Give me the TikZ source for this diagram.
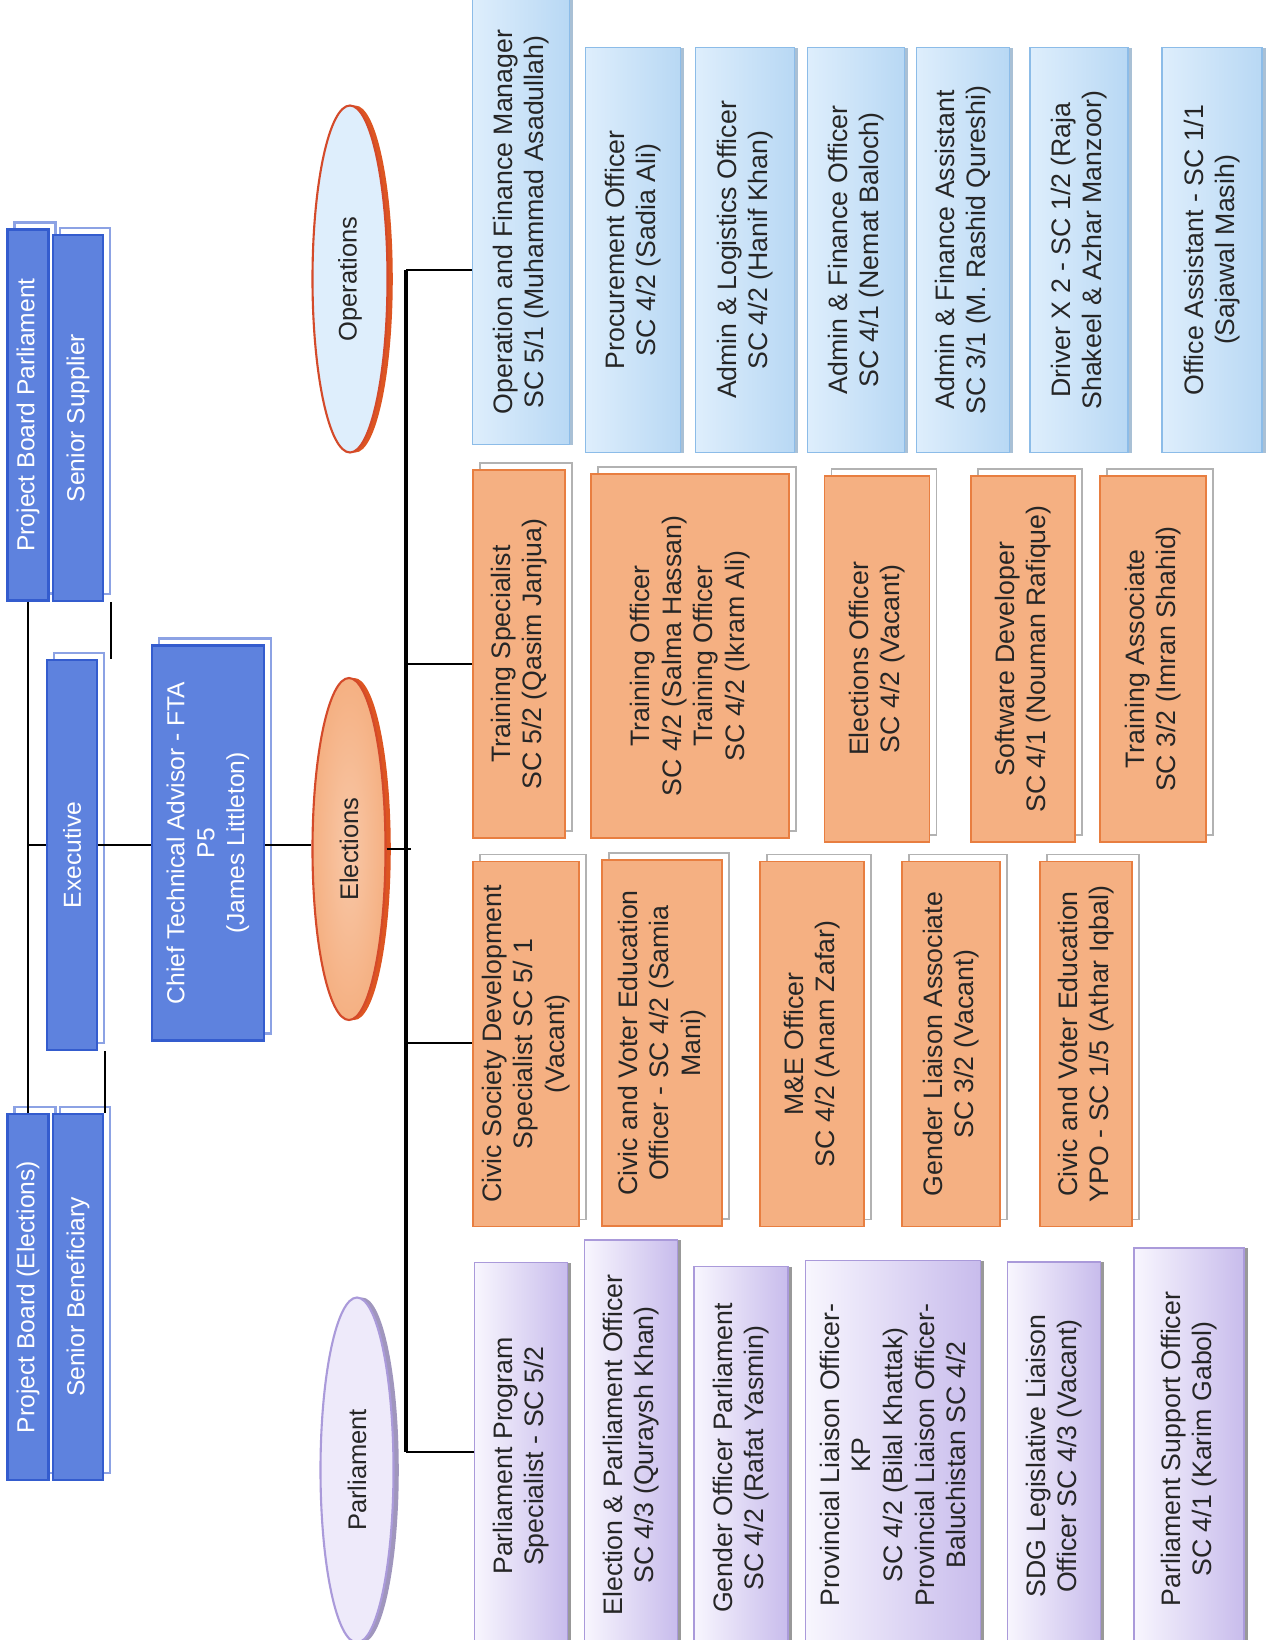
\documentclass[tikz,border=0pt]{standalone}
\usepackage{fontspec}
\setmainfont{Liberation Sans}
\usepackage{tikz}
\tikzset{>=latex}
\usetikzlibrary{shapes.geometric, shadows}

\definecolor{boardblue}{RGB}{94,130,222}
\definecolor{boardedge}{RGB}{52,92,206}
\definecolor{boardshade}{RGB}{140,162,228}
\definecolor{opslight}{RGB}{222,238,252}
\definecolor{opsdark}{RGB}{184,216,244}
\definecolor{opsedge}{RGB}{140,188,232}
\definecolor{elecfill}{RGB}{245,176,130}
\definecolor{elecedge}{RGB}{232,126,64}
\definecolor{parllight}{RGB}{248,246,254}
\definecolor{parldark}{RGB}{200,188,236}
\definecolor{parledge}{RGB}{170,154,218}
\definecolor{rimred}{RGB}{212,74,42}
\definecolor{inktext}{RGB}{38,38,38}

\newcommand{\branch}[2]{
   \draw[branchline] (#1) -- (#1 -| #2.north);
}

\tikzset{
  boxsize/.style 2 args = {minimum width=#1*0.02cm, minimum height=#2*0.02cm},
  card/.style = {rectangle, rotate=90, align=center, inner sep=2pt, text=inktext,
                 font=\fontsize{15.2}{18}\selectfont},
  boardbox/.style = {card, fill=boardblue, draw=boardedge, line width=1.2pt, text=white,
                 font=\fontsize{14}{17}\selectfont,
                 copy shadow={fill=white, draw=boardshade, line width=1.6pt, shadow xshift=4pt, shadow yshift=4pt}},
  opsbox/.style = {card, left color=opslight, right color=opsdark, draw=opsedge, line width=0.8pt,
                 copy shadow={fill=opsedge!80!black!60, draw=none, shadow xshift=2pt, shadow yshift=0pt}},
  elecbox/.style = {card, fill=elecfill, draw=elecedge, line width=0.8pt,
                 copy shadow={fill=white, draw=black!30, line width=0.7pt, shadow xshift=4pt, shadow yshift=4pt}},
  parlbox/.style = {card, left color=parllight, right color=parldark, draw=parledge, line width=0.8pt,
                 copy shadow={fill=black!40, draw=none, shadow xshift=2pt, shadow yshift=0pt}},
  unit/.style = {ellipse, rotate=90, inner sep=0pt, line width=1.2pt, text=inktext,
                 font=\fontsize{14.5}{17.5}\selectfont},
  branchline/.style = {line width=0.7pt},
  trunkline/.style = {line width=1.8pt}
}

\begin{document}
\begin{tikzpicture}[x=0.02cm, y=-0.02cm]
		% Frame
		\path[use as bounding box, fill=white] (0,0) rectangle (1272,1640);

		% Board
		\node[boardbox, boxsize={371}{41}] (pbparl) at (28,415) {Project Board Parliament};
		\node[boardbox, boxsize={366}{50}] (ssup) at (78,418) {Senior Supplier};
		\node[boardbox, boxsize={366}{41}] (pbelec) at (28,1297) {Project Board (Elections)};
		\node[boardbox, boxsize={366}{50}] (sben) at (78,1297) {Senior Beneficiary};
		\node[boardbox, boxsize={390}{50}] (exec) at (72,855) {Executive};
		\node[boardbox, boxsize={395}{112}] (cta) at (208,843) {Chief Technical Advisor - FTA\\P5\\(James Littleton)};
		\coordinate (ctaLevel) at (0,845);

		\draw[branchline] (pbparl.west) -- (pbelec.east);
		\draw[branchline] (ctaLevel -| pbparl.west) -- (ctaLevel -| exec.north);
		\draw[line width=1.4pt] ([xshift=4pt]ssup.south west) -- ([xshift=4pt]ssup.south west |- exec.south east);
		\draw[line width=1.4pt] ([xshift=4pt]exec.south west) -- ([xshift=4pt]exec.south west |- sben.south east);
		\draw[branchline] (ctaLevel -| exec.south) -- (ctaLevel -| cta.north);

		% Units
		\node[unit, fill=opslight, draw=rimred, boxsize={347}{75},
		      copy shadow={fill=rimred!80!orange, draw=none, shadow xshift=3pt, shadow yshift=0pt}] (opsell) at (350,279) {Operations};
		\node[unit, inner color=elecfill!70!white, outer color=elecfill, draw=rimred, boxsize={342}{73},
		      copy shadow={fill=rimred!80!orange, draw=none, shadow xshift=3pt, shadow yshift=0pt}] (elecell) at (349,849) {Elections};
		\node[unit, fill=parllight!80!parldark, draw=parledge, boxsize={345}{73},
		      copy shadow={fill=parldark!80!black, draw=none, shadow xshift=3pt, shadow yshift=0pt}] (parlell) at (357,1470) {Parliament};

		\draw[branchline] (ctaLevel -| cta.south) -- (ctaLevel -| elecell.north);
		\draw[branchline] (elecell.south) -- ++(24,0);

		% Operations
		\node[opsbox, boxsize={445}{97}] (opsmgr) at (521,222) {Operation and Finance Manager\\SC 5/1 (Muhammad Asadullah)};
		\node[opsbox, boxsize={405}{95}] (proc) at (633,250) {Procurement Officer\\SC 4/2 (Sadia Ali)};
		\node[opsbox, boxsize={405}{99}] (adlog) at (745,250) {Admin \& Logistics Officer\\SC 4/2 (Hanif Khan)};
		\node[opsbox, boxsize={405}{97}] (adfin) at (856,250) {Admin \& Finance Officer\\SC 4/1 (Nemat Baloch)};
		\node[opsbox, boxsize={405}{93}] (adass) at (963,250) {Admin \& Finance Assistant\\SC 3/1 (M. Rashid Qureshi)};
		\node[opsbox, boxsize={405}{98}] (driver) at (1079,250) {Driver X 2 - SC 1/2 (Raja\\Shakeel \& Azhar Manzoor)};
		\node[opsbox, boxsize={405}{100}] (offass) at (1212,250) {Office Assistant - SC 1/1\\(Sajawal Masih)};

		% Training
		\node[elecbox, boxsize={368}{92}] (trspec) at (519,654) {Training Specialist\\SC 5/2 (Qasim Janjua)};
		\node[elecbox, boxsize={364}{198}] (trofc) at (690,656) {Training Officer\\SC 4/2 (Salma Hassan)\\Training Officer\\SC 4/2 (Ikram Ali)};
		\node[elecbox, boxsize={366}{105}] (elecofc) at (877,659) {Elections Officer\\SC 4/2 (Vacant)};
		\node[elecbox, boxsize={366}{104}] (softdev) at (1023,659) {Software Developer\\SC 4/1 (Nouman Rafique)};
		\node[elecbox, boxsize={366}{106}] (trass) at (1153,659) {Training Associate\\SC 3/2 (Imran Shahid)};

		% Civic
		\node[elecbox, boxsize={365}{106}] (civsoc) at (526,1044) {Civic Society Development\\Specialist SC 5/ 1\\(Vacant)};
		\node[elecbox, boxsize={366}{120}] (cvedo) at (662,1043) {Civic and Voter Education\\Officer - SC 4/2 (Samia\\Mani)};
		\node[elecbox, boxsize={365}{104}] (mande) at (812,1044) {M\&E Officer\\SC 4/2 (Anam Zafar)};
		\node[elecbox, boxsize={365}{98}] (gender) at (951,1044) {Gender Liaison Associate\\SC 3/2 (Vacant)};
		\node[elecbox, boxsize={365}{92}] (cvypo) at (1086,1044) {Civic and Voter Education\\YPO - SC 1/5 (Athar Iqbal)};

		% Parliament
		\node[parlbox, boxsize={387}{93}] (parlprog) at (521,1456) {Parliament Program\\Specialist - SC 5/2};
		\node[parlbox, boxsize={410}{93}] (elparl) at (631,1445) {Election \& Parliament Officer\\SC 4/3 (Quraysh Khan)};
		\node[parlbox, boxsize={383}{94}] (gendparl) at (741,1458) {Gender Officer Parliament\\SC 4/2 (Rafat Yasmin)};
		\node[parlbox, boxsize={389}{175}] (provlia) at (893,1455) {Provincial Liaison Officer-\\KP\\SC 4/2 (Bilal Khattak)\\Provincial Liaison Officer-\\Baluchistan SC 4/2};
		\node[parlbox, boxsize={388}{93}] (sdg) at (1054,1456) {SDG Legislative Liaison\\Officer SC 4/3 (Vacant)};
		\node[parlbox, boxsize={402}{110}] (parlsup) at (1189,1449) {Parliament Support Officer\\SC 4/1 (Karim Gabol)};

		% Trunk
		\coordinate (tOps) at (406,270);
		\coordinate (tTrain) at (406,664);
		\coordinate (tCivic) at (406,1043);
		\coordinate (tParl) at (406,1452);
		\draw[trunkline] (tOps) -- (tParl);
		\branch{tOps}{opsmgr}
		\branch{tTrain}{trspec}
		\branch{tCivic}{civsoc}
		\branch{tParl}{parlprog}
\end{tikzpicture}
\end{document}
